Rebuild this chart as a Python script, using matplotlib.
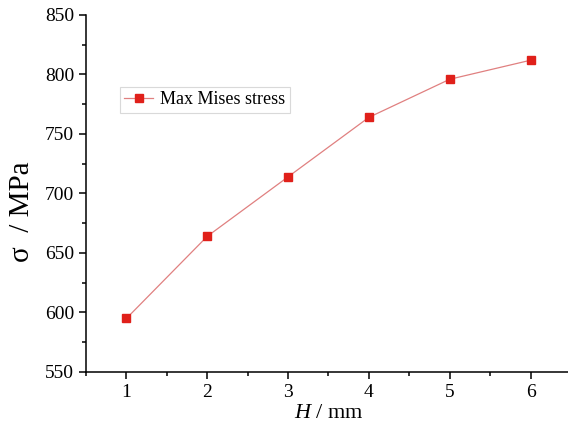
import numpy as np
import matplotlib.pyplot as plt
from matplotlib.ticker import MultipleLocator

# ── Data ───────────────────────────────────────────────────────────────────────
H_MM = [1, 2, 3, 4, 5, 6]
MISES_MPA = [595, 664, 714, 764, 796, 812]

plt.rcParams["font.family"] = ["Liberation Serif", "DejaVu Serif"]
plt.rcParams["mathtext.fontset"] = "custom"
plt.rcParams["mathtext.it"] = "Liberation Serif:italic"
plt.rcParams["mathtext.rm"] = "Liberation Serif"

fig = plt.figure(figsize=(5.68, 4.25), dpi=100)
ax = fig.add_axes([86 / 568, 53 / 425, 485 / 568, 357 / 425])

ax.plot(H_MM, MISES_MPA, color="#e08080", lw=0.9, marker="s", ms=6,
        mfc="#e0201a", mec="#e0201a", label="Max Mises stress")

ax.set_xlim(0.5, 6.5)
ax.set_ylim(550, 850)
ax.xaxis.set_major_locator(MultipleLocator(1))
ax.xaxis.set_minor_locator(MultipleLocator(0.5))
ax.yaxis.set_major_locator(MultipleLocator(50))
ax.yaxis.set_minor_locator(MultipleLocator(25))
ax.tick_params(which="both", direction="out", labelsize=14, width=1.1)
ax.tick_params(which="major", length=5)
ax.tick_params(which="minor", length=3)
for s in ["top", "right"]:
    ax.spines[s].set_visible(False)
for s in ["left", "bottom"]:
    ax.spines[s].set_linewidth(1.1)

ax.set_xlabel("$H$ / mm", fontsize=16, labelpad=2)
ax.set_ylabel("σ  / MPa", fontsize=21)
ax.yaxis.set_label_coords(-0.105, 0.45)

leg = ax.legend(loc="center", fontsize=13, frameon=True, handlelength=1.6,
                handletextpad=0.4, borderpad=0.25, borderaxespad=0,
                fancybox=False,
                bbox_to_anchor=((205 - 86) / 485, (372 - 100) / 357))
leg.get_frame().set_edgecolor("#d0d0d0")
leg.get_frame().set_linewidth(0.8)

fig.savefig("out.png", dpi=100)
